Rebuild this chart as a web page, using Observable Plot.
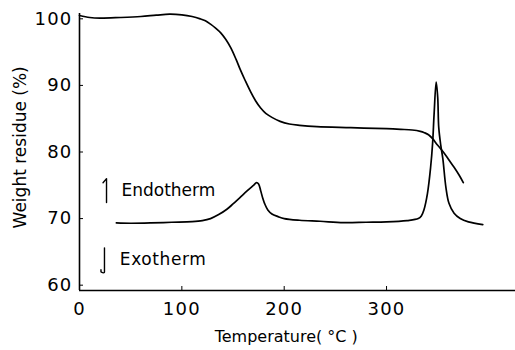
<!DOCTYPE html>
<html><head><meta charset="utf-8">
<script src="https://cdn.jsdelivr.net/npm/d3@7"></script>
<script src="https://cdn.jsdelivr.net/npm/@observablehq/plot@0.6"></script>
<style>body{margin:0;background:#fff} #chart svg{display:block} #chart g[aria-label$="tick label"] text{letter-spacing:1.2px} #chart g.exo text{letter-spacing:0.6px}</style>
</head><body><div id="chart"></div>
<script>
// TG curve: temperature (°C) and weight residue (%)
const tgTemp = [0,10,20,40,60,75,88,100,110,118,123,128,133,138,143,148,153,157,162,167,172,177,182,188,196,205,215,232,265,300,314,325,333,337,341,345,350,356,361,366,371,375];
const tgWeight = [100.5,100.2,100.1,100.2,100.35,100.55,100.7,100.6,100.35,100.0,99.7,99.2,98.6,97.9,96.9,95.6,93.9,92.4,90.7,89.1,87.7,86.6,85.8,85.2,84.6,84.2,84.0,83.8,83.65,83.5,83.4,83.3,83.1,82.9,82.6,82.0,81.0,79.9,78.8,77.7,76.5,75.4];
// DTA curve (plotted on the same scale)
const dtaTemp = [36,50,70,90,110,120,128,136,144,150,157,164,170,173,175,177,179,181,184,188,194,200,215,235,258,280,300,320,331,334,336.5,340,343,345,346.5,348.5,350,351,353,355,358,361,366,372,380,394];
const dtaValue = [69.35,69.3,69.35,69.45,69.55,69.7,70.0,70.6,71.4,72.2,73.2,74.2,75.0,75.4,75.2,74.2,73.1,72.2,71.3,70.7,70.3,70.0,69.75,69.6,69.4,69.45,69.5,69.7,70.0,70.4,71.3,73.8,77.6,81.3,85.8,90.5,88.2,83.7,81.0,79.0,74.7,72.3,70.8,70.0,69.5,69.1];
const xTicks = [0,100,200,300];
const yTicks = [60,70,80,90,100];
const noteText = ["Endotherm","Exotherm"];
const noteTemp = [41,39.4];
const noteValue = [74.2,63.9];
const arrowDir = ["up","down"];
const arrowTemp = [26.4,24.4];
const arrowValue = [74.2,63.8];
const xLabel = "Temperature( \u00B0C )";
const yLabel = "Weight residue (%)";
const xDomain = [0, 426];
const yDomain = [59.2, 100.8];

const tg = tgTemp.map((t,i)=>({t, v: tgWeight[i]}));
const dta = dtaTemp.map((t,i)=>({t, v: dtaValue[i]}));
const notes = noteText.map((s,i)=>({s, t: noteTemp[i], v: noteValue[i]}));
const arrows = arrowDir.map((d,i)=>({d, t: arrowTemp[i], v: arrowValue[i]}));

// half-arrow (harpoon) shapes, barb on the left
const harpoonUp = {draw(ctx, l, r) { ctx.moveTo(0, 0); ctx.lineTo(0, -l); ctx.lineTo(-r, -l + r * 1.2); }};
const harpoonDown = {draw(ctx, l, r) { ctx.moveTo(0, -l); ctx.lineTo(0, 0); ctx.quadraticCurveTo(0, 2, -r, 0); ctx.lineTo(-r, -r * 0.6); }};

const chart = Plot.plot({
  width: 515, height: 350,
  marginLeft: 79, marginRight: 0, marginTop: 13, marginBottom: 60,
  style: {fontFamily: "DejaVu Sans", fontSize: "17px", color: "#000", background: "#fff"},
  x: {domain: xDomain},
  y: {domain: yDomain},
  marks: [
    Plot.axisX({ticks: xTicks, tickSize: -4, tickPadding: 16, label: null, fontSize: 18}),
    Plot.axisY({ticks: yTicks, tickSize: -4, tickPadding: 11, label: null, fontSize: 18}),
    Plot.ruleX([xDomain[0]], {strokeWidth: 1.6}),
    Plot.ruleY([yDomain[0]], {strokeWidth: 1.6}),
    Plot.line(tg, {x: "t", y: "v", curve: "catmull-rom", strokeWidth: 1.7}),
    Plot.line(dta, {x: "t", y: "v", curve: "catmull-rom", strokeWidth: 1.7}),
    Plot.text(notes.slice(0, 1), {x: "t", y: "v", text: "s", textAnchor: "start", fontSize: 17}),
    Plot.text(notes.slice(1), {x: "t", y: "v", text: "s", textAnchor: "start", fontSize: 17, className: "exo"}),
    Plot.vector(arrows.filter(a => a.d === "up"), {x: "t", y: "v", length: 24, r: 3.5, anchor: "middle", shape: harpoonUp, strokeWidth: 1.4}),
    Plot.vector(arrows.filter(a => a.d === "down"), {x: "t", y: "v", length: 24, r: 3.5, anchor: "middle", shape: harpoonDown, strokeWidth: 1.4}),
    Plot.text([xLabel], {x: 202, frameAnchor: "bottom", lineAnchor: "middle", dy: 46, text: d => d, fontSize: 16}),
    Plot.text([yLabel], {y: 80.7, frameAnchor: "left", textAnchor: "middle", dx: -59, rotate: -90, text: d => d, fontSize: 17})
  ]
});
document.getElementById("chart").appendChild(chart);
</script>
</body></html>
